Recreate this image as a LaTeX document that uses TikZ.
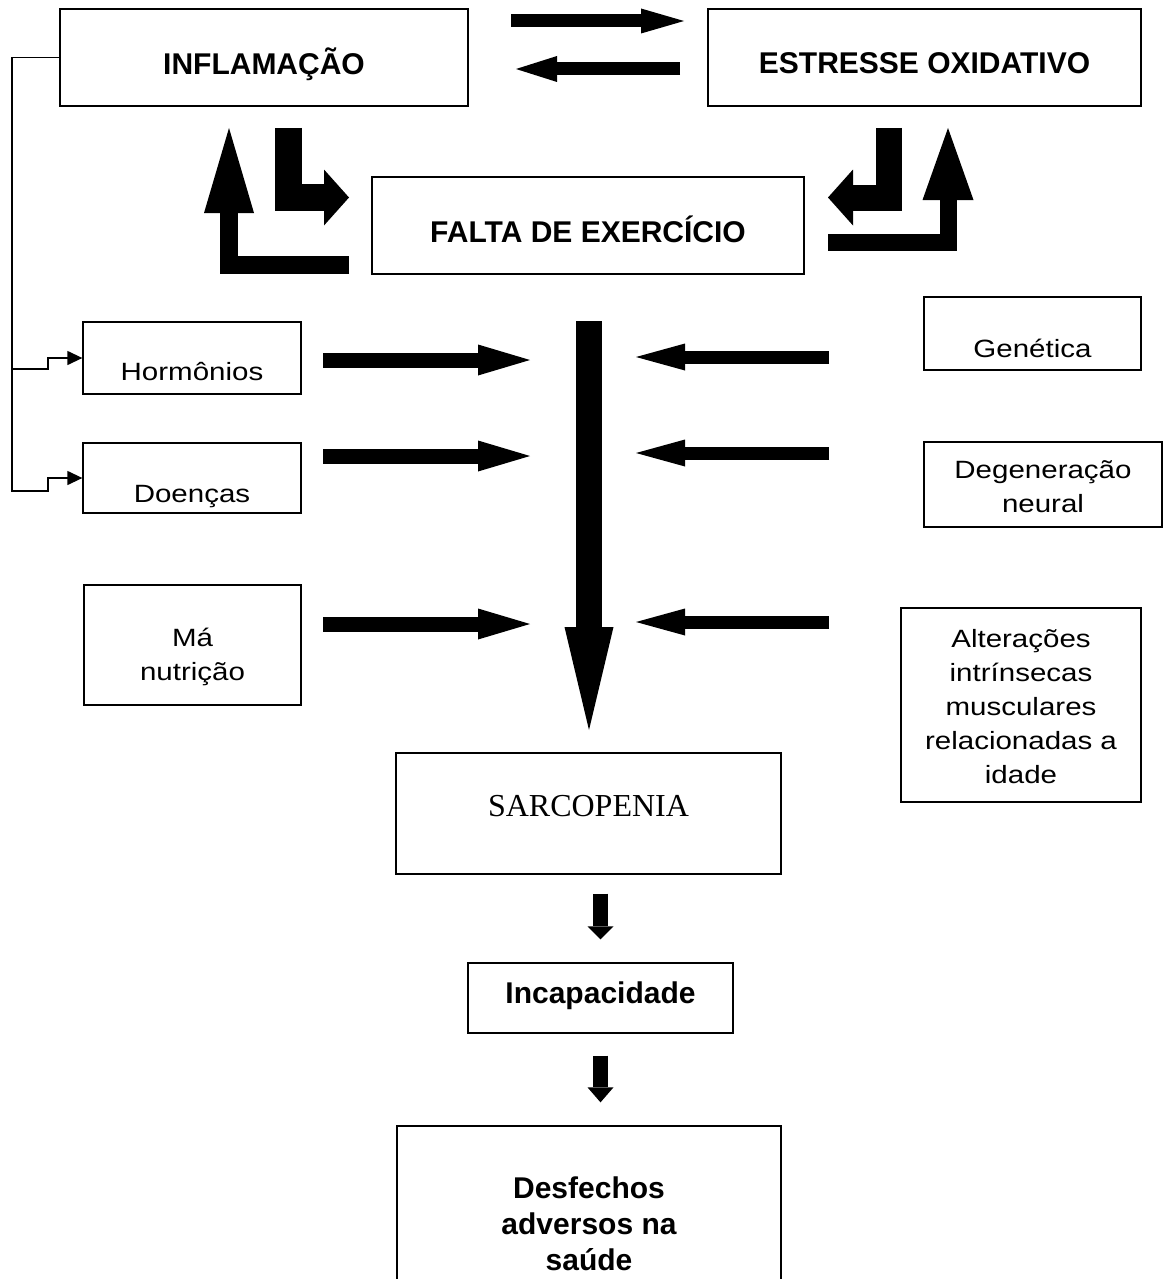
\documentclass[tikz,border=0pt]{standalone}
\usepackage{fontspec}
\setmainfont{Liberation Sans}
\newfontfamily\widesans[FakeStretch=1.18]{Liberation Sans}
\newfontfamily\timesrm{Liberation Serif}
\usetikzlibrary{arrows.meta}

\tikzset{
  box/.style={draw, line width=1.3pt, inner sep=1pt, align=center},
  headtxt/.style={font=\fontsize{30}{36}\selectfont\bfseries},
  softtxt/.style={font=\widesans\fontsize{25}{34}\selectfont},
  wire/.style={line width=1.3pt, -{Triangle[length=15pt, width=14pt]}},
  blockarrow/.style n args={3}{line width=#1, -{Triangle[length=#2, width=#3, line width=0pt]}},
}

\begin{document}
\begin{tikzpicture}[x=1pt, y=-1pt]
        \useasboundingbox (0,0) rectangle (1165,1279);
        \clip (0,0) rectangle (1165,1279);

        % upper boxes
        \node[box, headtxt, minimum width=408pt, minimum height=97pt, text height=35pt, text depth=0pt] (infl) at (264,57.5) {INFLAMAÇÃO};
        \node[box, headtxt, minimum width=433pt, minimum height=97pt, text height=33pt, text depth=0pt] (estr) [right of=infl, node distance=660.5pt] {ESTRESSE OXIDATIVO};
        \node[box, headtxt, minimum width=432pt, minimum height=97pt, text height=33pt, text depth=0pt] (falta) at (588,225.5) {FALTA DE EXERCÍCIO};

        % factors on the left
        \node[box, softtxt, minimum width=218pt, minimum height=72pt, text height=44pt, text depth=0pt] (horm) at (192,358) {Hormônios};
        \node[box, softtxt, minimum width=218pt, minimum height=70pt, text height=48pt, text depth=0pt] (doen) [below of=horm, node distance=120pt] {Doenças};
        \node[box, softtxt, minimum width=217pt, minimum height=120pt, text height=75pt, text depth=5pt] (nutr) at (192.5,645) {Má\\nutrição};

        % factors on the right
        \node[box, softtxt, minimum width=217pt, minimum height=73pt, text height=47pt, text depth=0pt] (gen) at (1032.5,333.5) {Genética};
        \node[box, softtxt, minimum width=238pt, minimum height=85pt, text height=60pt, text depth=5pt] (deg) at (1043,484.5) {Degeneração\\neural};
        \node[box, softtxt, minimum width=240pt, minimum height=194pt, text height=160pt, text depth=4pt] (alt) at (1021,705) {Alterações\\intrínsecas\\musculares\\relacionadas a\\idade};

        % outcome chain
        \node[box, font=\timesrm\fontsize{32}{38}\selectfont, minimum width=385pt, minimum height=121pt, text height=25pt, text depth=20pt] (sarc) at (588.5,813.5) {SARCOPENIA};
        \node[box, headtxt, minimum width=265pt, minimum height=70pt, text height=25pt, text depth=15pt] (incap) at (600.5,998) {Incapacidade};
        \node[box, headtxt, minimum width=384pt, minimum height=174pt, text height=118pt, text depth=4pt] (desf) at (589,1213) {Desfechos\\adversos na\\saúde};

        % thin links from inflamacao
        \coordinate (rail1) at (12,369);
        \coordinate (rail2) at (12,491);
        \draw[wire] (infl.west) -| (rail2) -- ++(36,0) |- (doen.west);
        \draw[wire] (rail1) -- ++(36,0) |- (horm.west);

        % block arrows at the top
        \coordinate (ie1) at (511,21);
        \coordinate (ie2) at (684,21);
        \coordinate (ei1) at (680,69);
        \coordinate (ei2) at (516,69);
        \draw[blockarrow={13pt}{43pt}{25pt}] (ie1) -- (ie2);
        \draw[blockarrow={13pt}{41pt}{26pt}] (ei1) -- (ei2);

        % bent arrows around falta de exercicio
        \coordinate (lb1) at (349,265);
        \coordinate (lb2) at (229,128);
        \coordinate (lb3) at (288,128);
        \coordinate (lb4) at (349,197.5);
        \coordinate (rb1) at (888.5,128);
        \coordinate (rb2) at (828,197.5);
        \coordinate (rb3) at (828,242);
        \coordinate (rb4) at (948,128);
        \draw[blockarrow={18pt}{85pt}{50pt}] (lb1) -| (lb2);
        \draw[blockarrow={27pt}{25pt}{56pt}] (lb3) |- (lb4);
        \draw[blockarrow={26pt}{25pt}{56pt}] (rb1) |- (rb2);
        \draw[blockarrow={17pt}{72pt}{51pt}] (rb3) -| (rb4);

        % main arrow and side inputs
        \coordinate (main1) at (589,321);
        \coordinate (main2) at (589,730);
        \draw[blockarrow={26pt}{103pt}{49pt}] (main1) -- (main2);
        \foreach \ya/\yb in {360/357, 456/453, 624/622} {
            \draw[blockarrow={15pt}{52pt}{31pt}] (323,\ya) -- (530,\ya);
            \draw[blockarrow={13pt}{49pt}{27pt}] (829,\yb) -- (636,\yb);
        }

        \draw[blockarrow={15pt}{13pt}{26pt}, shorten <=19pt, shorten >=23pt] (incap |- sarc.south) -- (incap.north);
        \draw[blockarrow={15pt}{15pt}{26pt}, shorten <=22pt, shorten >=23pt] (incap.south) -- (desf.north -| incap);
\end{tikzpicture}
\end{document}
